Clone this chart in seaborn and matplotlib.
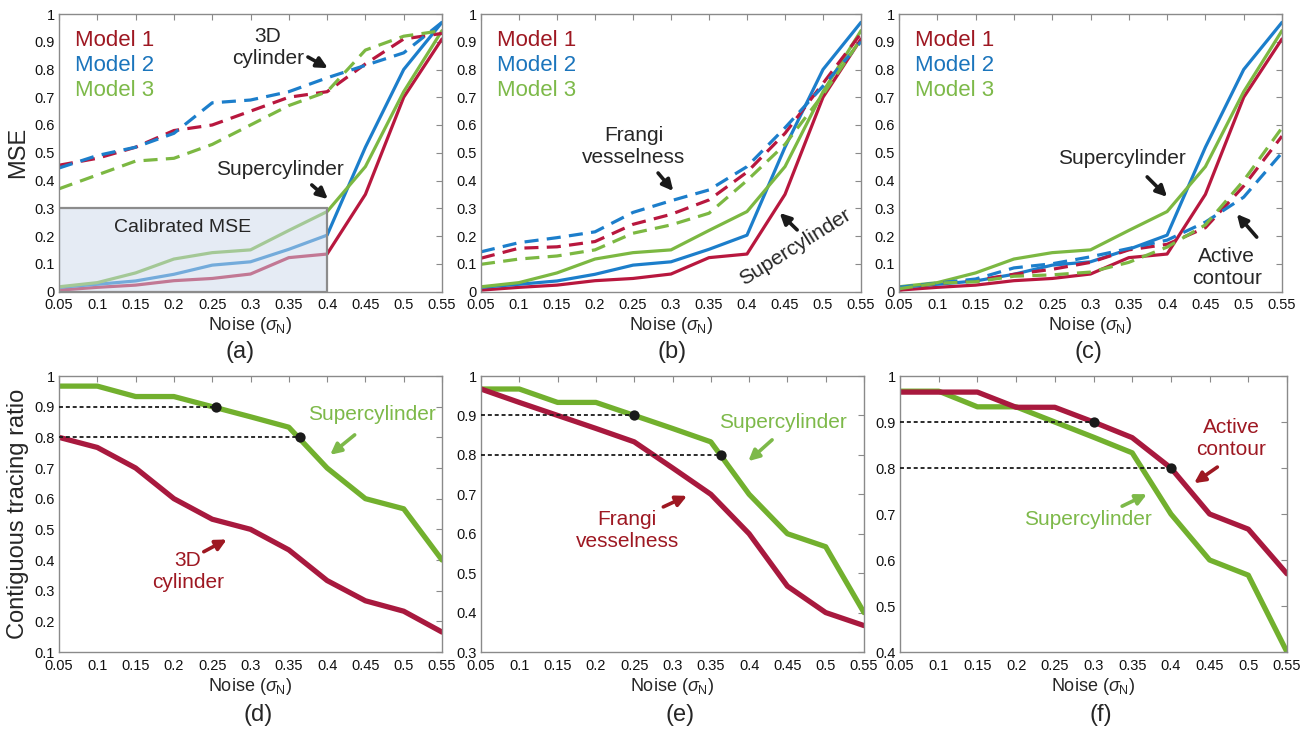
import numpy as np
import pandas as pd
import matplotlib
matplotlib.use("Agg")
import matplotlib.pyplot as plt
import matplotlib.patches as mpatches
from matplotlib.ticker import FixedLocator, FuncFormatter
import seaborn as sns

# ---------------- data ----------------
noise = [0.05, 0.10, 0.15, 0.20, 0.25, 0.30, 0.35, 0.40, 0.45, 0.50, 0.55]

# Supercylinder MSE (solid lines, same in a/b/c)
super_m1 = [0.005, 0.015, 0.023, 0.039, 0.047, 0.063, 0.122, 0.135, 0.35, 0.70, 0.91]
super_m2 = [0.015, 0.026, 0.038, 0.062, 0.095, 0.107, 0.152, 0.203, 0.52, 0.80, 0.97]
super_m3 = [0.017, 0.032, 0.067, 0.117, 0.140, 0.150, 0.220, 0.288, 0.45, 0.72, 0.94]

# 3D cylinder MSE (dashed, panel a)
cyl_m1 = [0.455, 0.48, 0.52, 0.58, 0.60, 0.65, 0.70, 0.72, 0.82, 0.91, 0.93]
cyl_m2 = [0.445, 0.49, 0.52, 0.57, 0.68, 0.69, 0.72, 0.77, 0.815, 0.86, 0.97]
cyl_m3 = [0.37, 0.42, 0.47, 0.48, 0.53, 0.60, 0.67, 0.72, 0.87, 0.92, 0.94]

# Frangi vesselness MSE (dashed, panel b)
fr_m1 = [0.12, 0.156, 0.161, 0.18, 0.242, 0.278, 0.33, 0.43, 0.57, 0.75, 0.93]
fr_m2 = [0.143, 0.176, 0.194, 0.215, 0.285, 0.327, 0.366, 0.45, 0.59, 0.74, 0.90]
fr_m3 = [0.098, 0.117, 0.128, 0.15, 0.21, 0.24, 0.282, 0.40, 0.53, 0.71, 0.91]

# Active contour MSE (dashed, panel c)
ac_m1 = [0.005, 0.03, 0.04, 0.062, 0.08, 0.105, 0.15, 0.17, 0.23, 0.38, 0.56]
ac_m2 = [0.015, 0.03, 0.045, 0.085, 0.10, 0.125, 0.155, 0.185, 0.25, 0.34, 0.50]
ac_m3 = [0.01, 0.03, 0.035, 0.055, 0.06, 0.07, 0.105, 0.16, 0.24, 0.40, 0.59]

# Contiguous tracing ratio
ctr_super = [0.967, 0.967, 0.933, 0.933, 0.90, 0.867, 0.833, 0.70, 0.60, 0.567, 0.40]
ctr_cyl = [0.80, 0.767, 0.70, 0.60, 0.533, 0.50, 0.433, 0.333, 0.267, 0.233, 0.165]
ctr_frangi = [0.967, 0.933, 0.90, 0.867, 0.833, 0.767, 0.70, 0.60, 0.467, 0.40, 0.367]
ctr_active = [0.965, 0.965, 0.965, 0.932, 0.932, 0.90, 0.866, 0.80, 0.70, 0.667, 0.57]

# threshold markers (noise at which ratio = 0.9 / 0.8)
thr_levels = [0.9, 0.8]
thr_d = [0.255, 0.365]
thr_e = [0.25, 0.363]
thr_f = [0.30, 0.40]

model_labels = ["Model 1", "Model 2", "Model 3"]
xticks = noise
mse_yticks = [0, 0.1, 0.2, 0.3, 0.4, 0.5, 0.6, 0.7, 0.8, 0.9, 1]

# ---------------- style ----------------
sns.set_theme(style="white")
plt.rcParams["font.family"] = ["Liberation Sans", "DejaVu Sans"]
plt.rcParams["mathtext.fontset"] = "custom"
plt.rcParams["mathtext.rm"] = "Liberation Sans"
plt.rcParams["mathtext.it"] = "Liberation Sans:italic"

C1 = "#B8173E"
C2 = "#1C7ECB"
C3 = "#7CB842"
T1 = "#9E1822"
T2 = "#1B75BC"
T3 = "#7DB949"
CR = "#A8193E"
CG = "#72B02E"
SPINE = "#8a8a8a"

W, H = 1306, 733
fig = plt.figure(figsize=(W / 100, H / 100), dpi=100)


def add_ax(left, right, top, bottom):
    return fig.add_axes([left / W, 1 - bottom / H, (right - left) / W, (bottom - top) / H])


def fmt(v, pos=None):
    return "%g" % v


def style_ax(ax, ylim, yticks):
    ax.set_xlim(0.05, 0.55)
    ax.set_ylim(*ylim)
    ax.xaxis.set_major_locator(FixedLocator(xticks))
    ax.yaxis.set_major_locator(FixedLocator(yticks))
    ax.xaxis.set_major_formatter(FuncFormatter(fmt))
    ax.yaxis.set_major_formatter(FuncFormatter(fmt))
    ax.tick_params(direction="in", length=4, width=0.8, color=SPINE, labelsize=10.5,
                   top=True, right=True, pad=3, labelcolor="#111111")
    ax.tick_params(axis="x", pad=5)
    for s in ax.spines.values():
        s.set_color(SPINE)
        s.set_linewidth(1.0)
    ax.set_xlabel("Noise ($\\sigma_\\mathrm{N}$)", fontsize=13, labelpad=2)
    ax.set_ylabel("")


def line(ax, y, color, lw, dashed=False, z=2):
    kw = dict(linestyle=(0, (4.4, 2.6))) if dashed else {}
    sns.lineplot(x=noise, y=y, ax=ax, color=color, lw=lw, zorder=z, **kw)


def legend_text(ax):
    for i, (lab, c) in enumerate(zip(model_labels, [T1, T2, T3])):
        ax.text(0.042, 0.906 - i * 0.09, lab, color=c, fontsize=16,
                transform=ax.transAxes, ha="left", va="center")


def arrow(ax, xy_from, xy_to, color="k"):
    ax.annotate("", xy=xy_to, xytext=xy_from,
                arrowprops=dict(arrowstyle="-|>", lw=2.6, color=color,
                                mutation_scale=16, shrinkA=0, shrinkB=0), zorder=8)


LW_TOP = 2.3
LW_BOT = 3.8

# ---------------- (a) ----------------
axa = add_ax(59, 442, 14, 291.5)
for y, c in zip([super_m1, super_m2, super_m3], [C1, C2, C3]):
    line(axa, y, c, LW_TOP)
for y, c in zip([cyl_m1, cyl_m2, cyl_m3], [C1, C2, C3]):
    line(axa, y, c, LW_TOP, dashed=True)
style_ax(axa, (0, 1), mse_yticks)
axa.add_patch(mpatches.Rectangle((0.05, 0), 0.35, 0.3, facecolor=(0.80, 0.85, 0.92, 0.5),
                                 edgecolor="#8c8c8c", lw=1.6, zorder=5))
axa.text(0.211, 0.229, "Calibrated MSE", fontsize=14, ha="center", va="center", zorder=6)
axa.text(0.323, 0.881, "3D\ncylinder", fontsize=15, ha="center", va="center", linespacing=1.2)
arrow(axa, (0.375, 0.845), (0.401, 0.805))
axa.text(0.338, 0.438, "Supercylinder", fontsize=15, ha="center", va="center")
arrow(axa, (0.380, 0.384), (0.401, 0.333))
legend_text(axa)
axa.set_ylabel("MSE", fontsize=17, labelpad=4)

# ---------------- (b) ----------------
axb = add_ax(481, 861, 14, 291.5)
for y, c in zip([super_m1, super_m2, super_m3], [C1, C2, C3]):
    line(axb, y, c, LW_TOP)
for y, c in zip([fr_m1, fr_m2, fr_m3], [C1, C2, C3]):
    line(axb, y, c, LW_TOP, dashed=True)
style_ax(axb, (0, 1), mse_yticks)
axb.text(0.251, 0.521, "Frangi\nvesselness", fontsize=15, ha="center", va="center", linespacing=1.2)
arrow(axb, (0.283, 0.427), (0.303, 0.362))
axb.text(0.463, 0.16, "Supercylinder", fontsize=15, ha="center", va="center", rotation=32)
arrow(axb, (0.466, 0.222), (0.443, 0.283))
legend_text(axb)

# ---------------- (c) ----------------
axc = add_ax(899, 1282, 14, 291.5)
for y, c in zip([super_m1, super_m2, super_m3], [C1, C2, C3]):
    line(axc, y, c, LW_TOP)
for y, c in zip([ac_m1, ac_m2, ac_m3], [C1, C2, C3]):
    line(axc, y, c, LW_TOP, dashed=True)
style_ax(axc, (0, 1), mse_yticks)
axc.text(0.341, 0.481, "Supercylinder", fontsize=15, ha="center", va="center")
arrow(axc, (0.374, 0.413), (0.400, 0.341))
axc.text(0.478, 0.088, "Active\ncontour", fontsize=15, ha="center", va="center", linespacing=1.2)
arrow(axc, (0.517, 0.196), (0.491, 0.279))
legend_text(axc)


def thresholds(ax, xs):
    for lvl, xv in zip(thr_levels, xs):
        ax.plot([0.05, xv], [lvl, lvl], color="k", lw=1.3, linestyle=(0, (2.2, 1.6)), zorder=6)
    sns.scatterplot(x=xs, y=thr_levels, ax=ax, color="k", s=55, zorder=7, edgecolor="k", linewidth=0)


# ---------------- (d) ----------------
axd = add_ax(59, 442, 376, 652)
line(axd, ctr_super, CG, LW_BOT)
line(axd, ctr_cyl, CR, LW_BOT)
thresholds(axd, thr_d)
style_ax(axd, (0.1, 1), [0.1, 0.2, 0.3, 0.4, 0.5, 0.6, 0.7, 0.8, 0.9, 1])
axd.text(0.459, 0.873, "Supercylinder", fontsize=15, ha="center", va="center", color=T3)
arrow(axd, (0.436, 0.808), (0.404, 0.743), color=T3)
axd.text(0.218, 0.361, "3D\ncylinder", fontsize=15, ha="center", va="center", color=T1, linespacing=1.2)
arrow(axd, (0.239, 0.427), (0.269, 0.467), color=T1)
axd.set_ylabel("Contiguous tracing ratio", fontsize=17, labelpad=4)

# ---------------- (e) ----------------
axe = add_ax(481, 864, 376, 652)
line(axe, ctr_super, CG, LW_BOT)
line(axe, ctr_frangi, CR, LW_BOT)
thresholds(axe, thr_e)
style_ax(axe, (0.3, 1), [0.3, 0.4, 0.5, 0.6, 0.7, 0.8, 0.9, 1])
axe.text(0.444, 0.883, "Supercylinder", fontsize=15, ha="center", va="center", color=T3)
arrow(axe, (0.430, 0.838), (0.399, 0.784), color=T3)
axe.text(0.241, 0.609, "Frangi\nvesselness", fontsize=15, ha="center", va="center", color=T1, linespacing=1.2)
arrow(axe, (0.288, 0.668), (0.319, 0.696), color=T1)

# ---------------- (f) ----------------
axf = add_ax(900, 1287, 376, 652)
line(axf, ctr_super, CG, LW_BOT)
line(axf, ctr_active, CR, LW_BOT)
thresholds(axf, thr_f)
style_ax(axf, (0.4, 1), [0.4, 0.5, 0.6, 0.7, 0.8, 0.9, 1])
axf.text(0.478, 0.865, "Active\ncontour", fontsize=15, ha="center", va="center", color=T1, linespacing=1.2)
arrow(axf, (0.460, 0.802), (0.430, 0.767), color=T1)
axf.text(0.293, 0.687, "Supercylinder", fontsize=15, ha="center", va="center", color=T3)
arrow(axf, (0.337, 0.717), (0.369, 0.743), color=T3)

# panel letters
for lab, x, y in [("(a)", 240, 352), ("(b)", 672, 352), ("(c)", 1088, 352),
                  ("(d)", 258, 715), ("(e)", 680, 715), ("(f)", 1101, 715)]:
    fig.text(x / W, 1 - y / H, lab, fontsize=17, ha="center", va="center")

fig.savefig("out.png", dpi=100, facecolor="white")
